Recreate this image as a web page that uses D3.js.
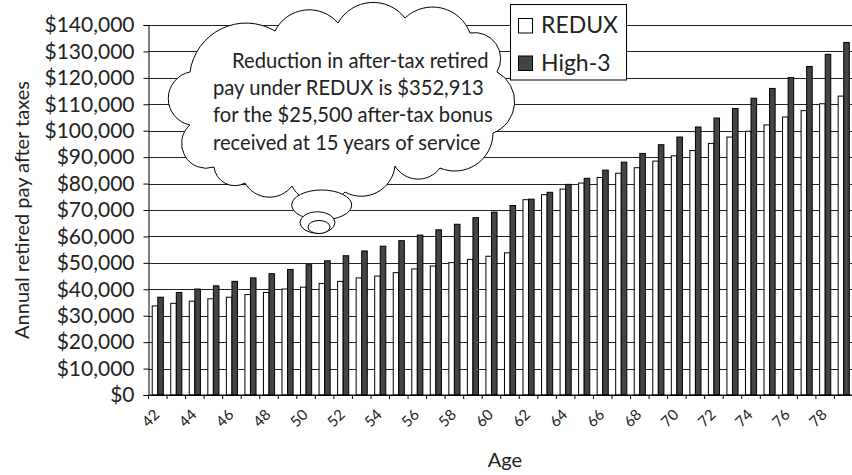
<!DOCTYPE html>
<html>
<head>
<meta charset="utf-8">
<script src="https://cdn.jsdelivr.net/npm/d3@7"></script>
<style>
  body { margin: 0; background: #fff; }
  svg { display: block; font-family: Lato, "Open Sans", sans-serif; }
</style>
</head>
<body>
<svg id="chart" width="852" height="475"></svg>
<script>
// ages on the x axis
const ages = [42, 43, 44, 45, 46, 47, 48, 49, 50, 51, 52, 53, 54, 55, 56, 57, 58, 59, 60,
  61, 62, 63, 64, 65, 66, 67, 68, 69, 70, 71, 72, 73, 74, 75, 76, 77, 78, 79];

// annual retired pay after taxes
const redux = [33700, 34700, 35500, 36400, 37000, 38000, 38800, 40100, 40800, 42200, 43000, 44300,
  45000, 46300, 47700, 48800, 50100, 51300, 52500, 53800,
  73900, 75800, 77900, 80200,
  82300, 83900, 86000, 88500, 90500, 92500, 95200, 97600, 99800, 102200, 105200, 107600, 110200, 113100];
const high3 = [37000, 38800, 40100, 41300, 43000, 44300, 45900, 47500, 49300, 50800, 52700, 54500,
  56300, 58400, 60500, 62500, 64600, 67100, 69200, 71700,
  74100, 76700, 79700, 82000,
  85100, 88100, 91400, 94700, 97600, 101400, 104800, 108400, 112300, 116000, 120100, 124300, 128900, 133400];

const seriesNames = ["REDUX", "High-3"];
const seriesFill = ["#ffffff", "#444444"];
const yTicks = [0, 10000, 20000, 30000, 40000, 50000, 60000, 70000, 80000, 90000, 100000, 110000, 120000, 130000, 140000];

const noteLines = [
  "Reduction in after-tax retired",
  "pay under REDUX is $352,913",
  "for the $25,500 after-tax bonus",
  "received at 15 years of service"
];

const svg = d3.select("#chart");
const margin = { left: 148.5, right: -1, top: 25, bottom: 80 };
const width = +svg.attr("width");
const height = +svg.attr("height");
const textCol = "#222";

const x = d3.scaleBand().domain(ages).range([margin.left, width - margin.right]).padding(0);
const xs = d3.scaleBand().domain(seriesNames).range([x.bandwidth() * 0.2, x.bandwidth() * 0.8]);
const y = d3.scaleLinear().domain([0, 140000]).range([height - margin.bottom, margin.top]);

// gridlines
svg.append("g")
  .selectAll("line")
  .data(yTicks)
  .join("line")
  .attr("x1", margin.left).attr("x2", width)
  .attr("y1", d => Math.round(y(d)) + 0.5).attr("y2", d => Math.round(y(d)) + 0.5)
  .attr("stroke", "#222").attr("stroke-width", 1);

// bars
const rows = ages.map((a, i) => ({ age: a, vals: [redux[i], high3[i]] }));
svg.append("g")
  .selectAll("g")
  .data(rows)
  .join("g")
  .attr("transform", d => `translate(${x(d.age)},0)`)
  .selectAll("rect")
  .data(d => d.vals.map((v, k) => ({ k, v })))
  .join("rect")
  .attr("x", d => xs(seriesNames[d.k]))
  .attr("width", xs.bandwidth())
  .attr("y", d => y(d.v))
  .attr("height", d => y(0) - y(d.v))
  .attr("fill", d => seriesFill[d.k])
  .attr("stroke", "#000")
  .attr("stroke-width", 1);

// y axis
const yAxis = svg.append("g")
  .attr("transform", `translate(${margin.left},0)`)
  .call(d3.axisLeft(y).tickValues(yTicks).tickSize(5).tickPadding(9)
    .tickFormat(d => "$" + d3.format(",")(d)));
yAxis.select(".domain").attr("stroke", "#000");
yAxis.selectAll("text").attr("font-size", 21).attr("fill", textCol).attr("font-family", "Lato");

// x axis: ticks at category boundaries, labels every other age
const xAxisG = svg.append("g").attr("transform", `translate(0,${y(0)})`);
xAxisG.append("line")
  .attr("x1", margin.left).attr("x2", width)
  .attr("stroke", "#000");
xAxisG.selectAll("line.tk")
  .data(ages)
  .join("line")
  .attr("class", "tk")
  .attr("x1", d => x(d)).attr("x2", d => x(d))
  .attr("y1", 0).attr("y2", 4)
  .attr("stroke", "#000");
xAxisG.selectAll("text")
  .data(ages.filter(a => a % 2 === 0))
  .join("text")
  .attr("transform", d => `translate(${x(d) + x.bandwidth() / 2 - 1},${17}) rotate(-45)`)
  .attr("text-anchor", "end")
  .attr("dy", "0.35em")
  .attr("font-size", 15)
  .attr("fill", textCol)
  .text(d => d);

// axis titles
svg.append("text")
  .attr("x", 505).attr("y", 467)
  .attr("text-anchor", "middle")
  .attr("font-size", 20)
  .attr("fill", textCol)
  .text("Age");
svg.append("text")
  .attr("transform", `translate(28.5,${(y(0) + y(140000)) / 2}) rotate(-90)`)
  .attr("text-anchor", "middle")
  .attr("font-size", 20)
  .attr("fill", textCol)
  .text("Annual retired pay after taxes");

// thought cloud
const cloudPts = [
  [190, 72, 0.6], [275, 31, 0.6], [338, 23, 0.6], [405, 18, 0.6], [470, 33, 0.6],
  [497, 72, 0.55], [493, 133, 0.55], [440, 168, 0.6], [395, 166, 0.6], [345, 192, 0.6],
  [292, 186, 0.6], [245, 183, 0.6], [214, 167, 0.6], [190, 125, 0.51], [190, 72, 0.51]
];
let cloudPath = `M${cloudPts[0][0]},${cloudPts[0][1]}`;
for (let i = 1; i < cloudPts.length; i++) {
  const [x0, y0] = cloudPts[i - 1];
  const [x1, y1, k] = cloudPts[i];
  const r = Math.hypot(x1 - x0, y1 - y0) * k;
  cloudPath += ` A${r},${r} 0 0 1 ${x1},${y1}`;
}
cloudPath += " Z";
const cloud = svg.append("g");
cloud.append("path")
  .attr("d", cloudPath)
  .attr("fill", "#fff").attr("stroke", "#000").attr("stroke-width", 1);
[[321.7, 205, 30, 15], [317.5, 222.5, 17.5, 10.8], [319, 227, 11, 6.5]].forEach(e => {
  cloud.append("ellipse")
    .attr("cx", e[0]).attr("cy", e[1]).attr("rx", e[2]).attr("ry", e[3])
    .attr("fill", "#fff").attr("stroke", "#000").attr("stroke-width", 1);
});
cloud.selectAll("text")
  .data(noteLines)
  .join("text")
  .attr("x", (d, i) => i === 0 ? 232 : 213)
  .attr("y", (d, i) => 68 + i * 27.2)
  .attr("font-size", 20.2)
  .attr("fill", textCol)
  .text(d => d);

// legend
const legend = svg.append("g");
legend.append("rect")
  .attr("x", 510.5).attr("y", 4.5).attr("width", 116).attr("height", 75.5)
  .attr("fill", "#fff").attr("stroke", "#000");
seriesNames.forEach((name, i) => {
  legend.append("rect")
    .attr("x", 518.5).attr("y", 18.5 + i * 37.5).attr("width", 14).attr("height", 14.5)
    .attr("fill", seriesFill[i]).attr("stroke", "#000");
  legend.append("text")
    .attr("x", 541).attr("y", 33 + i * 38)
    .attr("font-size", 23)
    .attr("fill", textCol)
    .text(name);
});
</script>
</body>
</html>
